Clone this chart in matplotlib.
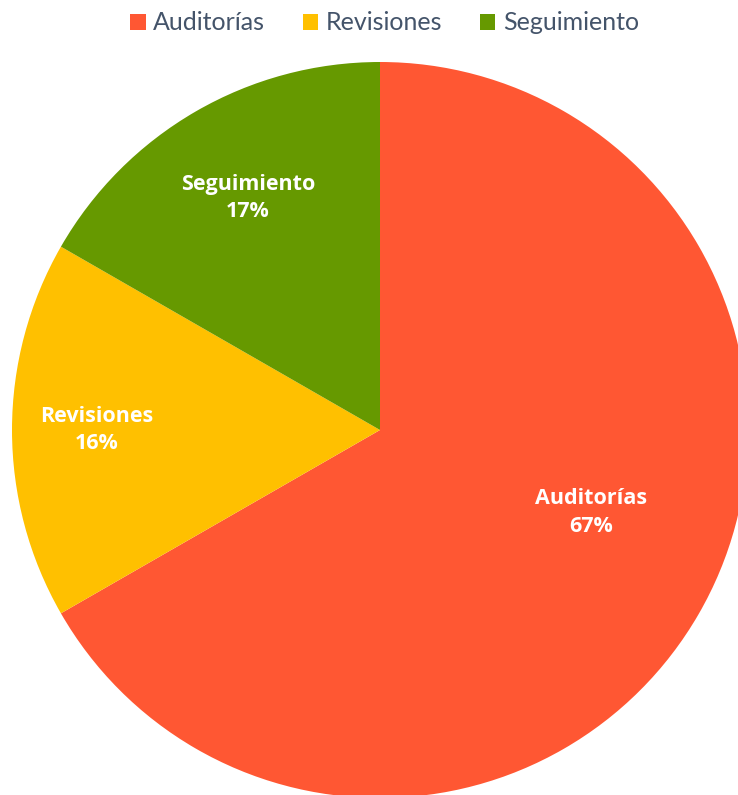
import numpy as np
import matplotlib.pyplot as plt
from matplotlib.patches import Patch

categories = ["Auditorías", "Revisiones", "Seguimiento"]
shares = [66.7, 16.6, 16.7]
pct_labels = ["67%", "16%", "17%"]
colors = ["#FF5733", "#FFC000", "#669900"]

# label placement (fraction of radius, angle shift in degrees)
label_dist = [0.615, 0.77, 0.725]
label_shift = [8.7, 0.0, -0.4]

W, H = 738, 795
fig = plt.figure(figsize=(W / 100, H / 100), dpi=100)
ax = fig.add_axes([0, 0, 1, 1])

cx, cy, r = 380, H - 430, 368
wedges, _ = ax.pie(shares, colors=colors, startangle=90, counterclock=False,
                   center=(cx, cy), radius=r, frame=True,
                   wedgeprops=dict(linewidth=0))
ax.set_xlim(0, W)
ax.set_ylim(0, H)
ax.set_aspect("equal")
ax.axis("off")

for w, name, pct, d, s in zip(wedges, categories, pct_labels, label_dist, label_shift):
    mid = np.deg2rad((w.theta1 + w.theta2) / 2 + s)
    ax.text(cx + d * r * np.cos(mid), cy + d * r * np.sin(mid),
            f"{name}\n{pct}", ha="center", va="center", color="white",
            fontsize=15.5, fontweight="bold", family="Open Sans", linespacing=1.4)

handles = [Patch(facecolor=c, edgecolor="none") for c in colors]
fig.legend(handles, categories, loc="center", bbox_to_anchor=(0.521, 1 - 23 / H),
           ncol=3, frameon=False, handlelength=0.62, handleheight=0.62,
           handletextpad=0.3, columnspacing=1.5, labelcolor="#44546A",
           prop={"family": "Lato", "size": 18})

fig.savefig("out.png", dpi=100)
